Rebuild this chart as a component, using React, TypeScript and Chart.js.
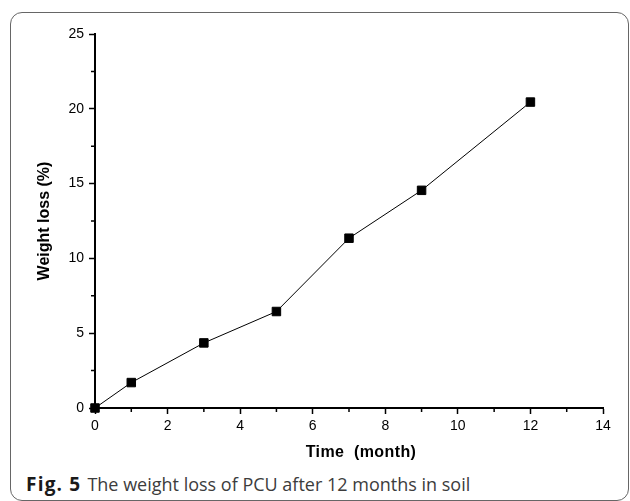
import React, { useEffect, useRef } from "react";
import { Chart, registerables } from "chart.js";

Chart.register(...registerables);

const months = [0, 1, 3, 5, 7, 9, 12];
const weightLoss = [0, 1.7, 4.35, 6.45, 11.35, 14.55, 20.45];
const xTicks = [0, 2, 4, 6, 8, 10, 12, 14];
const yTicks = [0, 5, 10, 15, 20, 25];
const xMinorTicks = [1, 3, 5, 7, 9, 11, 13];
const yMinorTicks = [2.5, 7.5, 12.5, 17.5, 22.5];

const minorTickPlugin = {
  id: "minorTicks",
  afterDraw(chart: any) {
    const { ctx, chartArea, scales } = chart;
    ctx.save();
    ctx.strokeStyle = "#000";
    ctx.lineWidth = 1.5;
    ctx.beginPath();
    yMinorTicks.forEach((v) => {
      const y = scales.y.getPixelForValue(v);
      ctx.moveTo(chartArea.left - 4, y);
      ctx.lineTo(chartArea.left, y);
    });
    xMinorTicks.forEach((v) => {
      const x = scales.x.getPixelForValue(v);
      ctx.moveTo(x, chartArea.bottom);
      ctx.lineTo(x, chartArea.bottom + 4);
    });
    ctx.stroke();
    ctx.restore();
  },
};

export default function App() {
  const ref = useRef<HTMLCanvasElement | null>(null);

  useEffect(() => {
    if (!ref.current) return;
    const chart = new Chart(ref.current, {
      type: "line",
      data: {
        datasets: [
          {
            data: months.map((m, i) => ({ x: m, y: weightLoss[i] })),
            borderColor: "#000",
            borderWidth: 1,
            backgroundColor: "#000",
            pointStyle: "rect",
            pointRadius: 6,
            pointBorderWidth: 1,
            pointBorderColor: "#000",
            pointBackgroundColor: "#000",
            clip: false as any,
          },
        ],
      },
      options: {
        responsive: false,
        animation: false,
        layout: { padding: { left: 0, right: 27, top: 34, bottom: 0 } },
        plugins: {
          legend: { display: false },
          tooltip: { enabled: false },
        },
        scales: {
          x: {
            type: "linear",
            min: 0,
            max: 14,
            afterBuildTicks: (s: any) => {
              s.ticks = xTicks.map((v) => ({ value: v }));
            },
            afterFit: (s: any) => {
              s.height = 62;
            },
            ticks: {
              color: "#000",
              padding: 4,
              font: { family: "'Liberation Sans', Arial, sans-serif", size: 14 },
            },
            grid: {
              drawOnChartArea: false,
              drawTicks: true,
              tickLength: 6,
              tickWidth: 1.5,
              tickColor: "#000",
            },
            border: { display: true, color: "#000", width: 2 },
          },
          y: {
            type: "linear",
            min: 0,
            max: 25,
            afterBuildTicks: (s: any) => {
              s.ticks = yTicks.map((v) => ({ value: v }));
            },
            afterFit: (s: any) => {
              s.width = 95;
            },
            title: {
              display: true,
              text: "Weight loss (%)",
              color: "#000",
              padding: { top: 35, bottom: 0 },
              font: { family: "'Liberation Sans', Arial, sans-serif", size: 16, weight: "bold" },
            },
            ticks: {
              color: "#000",
              padding: 5,
              font: { family: "'Liberation Sans', Arial, sans-serif", size: 14 },
            },
            grid: {
              drawOnChartArea: false,
              drawTicks: true,
              tickLength: 6,
              tickWidth: 1.5,
              tickColor: "#000",
            },
            border: { display: true, color: "#000", width: 2 },
          },
        },
      },
      plugins: [minorTickPlugin],
    });
    return () => chart.destroy();
  }, []);

  return (
    <div
      style={{
        position: "absolute",
        left: 0,
        top: 0,
        width: 630,
        height: 501,
        overflow: "hidden",
        background: "#fff",
      }}
    >
      <div
        style={{
          position: "absolute",
          left: 10,
          top: 12,
          width: 617,
          height: 487,
          border: "1.5px solid #666",
          borderRadius: 12,
        }}
      />
      <canvas
        ref={ref}
        width={630}
        height={470}
        style={{ position: "absolute", left: 0, top: 0 }}
      />
      <div
        style={{
          position: "absolute",
          left: 361,
          top: 452,
          transform: "translate(-50%, -50%)",
          fontFamily: "'Liberation Sans', Arial, sans-serif",
          fontWeight: "bold",
          fontSize: 16,
          letterSpacing: 0.4,
          whiteSpace: "pre",
          color: "#000",
        }}
      >
        {"Time  (month)"}
      </div>
      <div
        style={{
          position: "absolute",
          left: 26,
          top: 472,
          lineHeight: "24px",
          fontFamily: "'Open Sans', 'Noto Sans', sans-serif",
          fontSize: 18,
          whiteSpace: "nowrap",
          color: "#3c3c3c",
        }}
      >
        <span style={{ fontWeight: "bold", color: "#1a1a1a", fontSize: 19, letterSpacing: 1.2 }}>Fig. 5</span>
        <span style={{ marginLeft: 6 }}>The weight loss of PCU after 12 months in soil</span>
      </div>
    </div>
  );
}
